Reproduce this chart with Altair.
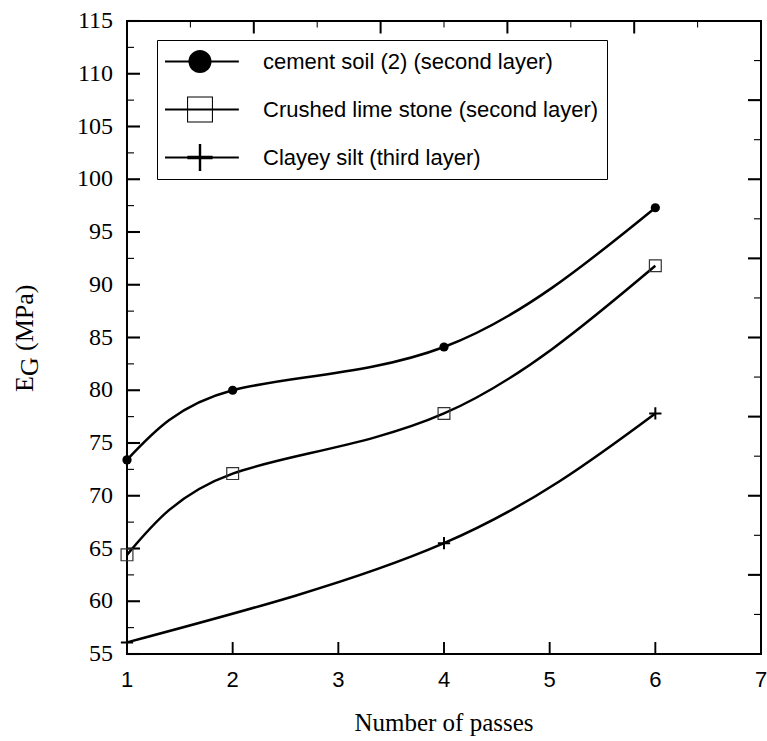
import altair as alt
import pandas as pd

# Measured E_G values (MPa) against number of roller passes
passes_cement = [1, 2, 4, 6]
cement = [73.4, 80.0, 84.1, 97.3]
passes_lime = [1, 2, 4, 6]
lime = [64.4, 72.1, 77.8, 91.8]
passes_silt = [1, 4, 6]
silt = [56.1, 65.5, 77.8]

series_names = [
    "cement soil (2) (second layer)",
    "Crushed lime stone (second layer)",
    "Clayey silt (third layer)",
]

# Frame tick positions and labels
x_ticks = [1, 2, 3, 4, 5, 6, 7]
y_major = [55, 60, 65, 70, 75, 80, 85, 90, 95, 100, 105, 110, 115]
y_minor = [57.5, 62.5, 67.5, 72.5, 77.5, 82.5, 87.5, 92.5, 97.5, 102.5, 107.5, 112.5]
top_major = [2.2, 3.4, 4.6, 5.8]
top_minor = [1.6, 2.8, 4.0, 5.2, 6.4]
right_major = [62.5, 70, 77.5, 85, 92.5, 100, 107.5]
right_minor = [58.75, 66.25, 73.75, 81.25, 88.75, 96.25, 103.75, 111.25]

W, H = 634, 633
SERIF = "Liberation Serif"
SANS = "Liberation Sans"

rows = []
for name, xs, ys in zip(series_names,
                        [passes_cement, passes_lime, passes_silt],
                        [cement, lime, silt]):
    for xv, yv in zip(xs, ys):
        rows.append({"series": name, "passes": xv, "eg": yv})
df = pd.DataFrame(rows)

xscale = alt.Scale(domain=[1, 7], nice=False, zero=False)
yscale = alt.Scale(domain=[55, 115], nice=False, zero=False)

x_plain = alt.X("passes:Q", scale=xscale, axis=None)
y_plain = alt.Y("eg:Q", scale=yscale, axis=None)

curves = alt.Chart(df).mark_line(
    interpolate="natural", color="black", strokeWidth=2.5
).encode(x=x_plain, y=y_plain, detail="series:N")

cement_pts = alt.Chart(df).transform_filter(
    alt.datum.series == series_names[0]
).mark_point(shape="circle", filled=True, color="black", size=85, opacity=1).encode(
    x=x_plain, y=y_plain)

lime_pts = alt.Chart(df).transform_filter(
    alt.datum.series == series_names[1]
).mark_point(shape="square", filled=False, stroke="#333333", strokeWidth=1.2,
             size=140, opacity=1).encode(x=x_plain, y=y_plain)

silt_pts = alt.Chart(df).transform_filter(
    alt.datum.series == series_names[2]
).mark_point(shape="M-1,0H1M0,-1V1", filled=False, stroke="black", strokeWidth=2,
             size=150, opacity=1).encode(x=x_plain, y=y_plain)

# Inward frame ticks drawn as filled marker shapes placed on the scales
TICK_L = "M0,-0.08H1V0.08H0Z"      # ray pointing right from the anchor
TICK_R = "M0,-0.08H-1V0.08H0Z"     # ray pointing left
TICK_U = "M-0.08,0V-1H0.08V0Z"     # ray pointing up
TICK_D = "M-0.08,0V1H0.08V0Z"      # ray pointing down


def edge_ticks(values, channel, shape, length, fixed):
    data = pd.DataFrame({"v": values})
    if channel == "y":
        enc = {"x": alt.value(fixed), "y": alt.Y("v:Q", scale=yscale, axis=None)}
    else:
        enc = {"x": alt.X("v:Q", scale=xscale, axis=None), "y": alt.value(fixed)}
    return alt.Chart(data).mark_point(
        shape=shape, filled=True, color="black", size=length * length, opacity=1,
        strokeWidth=0
    ).encode(**enc)


tick_layers = [
    edge_ticks(y_major, "y", TICK_L, 26, 0),
    edge_ticks(y_minor, "y", TICK_L, 14, 0),
    edge_ticks(right_major, "y", TICK_R, 26, W),
    edge_ticks(right_minor, "y", TICK_R, 14, W),
    edge_ticks(x_ticks, "x", TICK_U, 24, H),
    edge_ticks(top_major, "x", TICK_D, 25, 0),
    edge_ticks(top_minor, "x", TICK_D, 13, 0),
]

# Tick labels placed through the same scales
y_labels = alt.Chart(pd.DataFrame({"lab": y_major})).mark_text(
    font=SERIF, fontSize=24, align="right", baseline="middle", color="black"
).encode(y=alt.Y("lab:Q", scale=yscale, axis=None), x=alt.value(-14),
         text=alt.Text("lab:Q", format="d"))

x_labels = alt.Chart(pd.DataFrame({"lab": x_ticks})).mark_text(
    font=SANS, fontSize=22, align="center", baseline="top", color="black"
).encode(x=alt.X("lab:Q", scale=xscale, axis=None), y=alt.value(H + 16),
         text=alt.Text("lab:Q", format="d"))

x_title = alt.Chart(pd.DataFrame({"t": ["Number of passes"]})).mark_text(
    font=SERIF, fontSize=25, align="center", baseline="alphabetic", color="black"
).encode(text="t:N", x=alt.value(W / 2), y=alt.value(H + 77))

# Legend symbols built from filled outlines: line segment through each marker
legend_paths = [
    # line + filled circle
    "M-1.11,-0.03H1.11V0.03H-1.11Z"
    "M-0.33,0A0.33,0.33 0 1,1 0.33,0A0.33,0.33 0 1,1 -0.33,0Z",
    # line + open square (outer ring clockwise, inner counter-clockwise)
    "M-1.11,-0.03H-0.37V0.03H-1.11Z M0.37,-0.03H1.11V0.03H0.37Z"
    "M-0.37,-0.37H0.37V0.37H-0.37Z M-0.34,-0.34V0.34H0.34V-0.34Z"
    "M-0.34,-0.03H0.34V0.03H-0.34Z",
    # line + plus
    "M-1.11,-0.03H1.11V0.03H-1.11Z M-0.035,-0.4H0.035V0.4H-0.035Z"
    "M-0.36,-0.05H0.36V0.05H-0.36Z",
]
legend_layer = alt.Chart(df).transform_filter("false").mark_point(
    filled=True, color="black", opacity=1
).encode(
    x=x_plain, y=y_plain,
    shape=alt.Shape("series:N", scale=alt.Scale(domain=series_names, range=legend_paths),
                    legend=alt.Legend(title=None, orient="none", legendX=30, legendY=19,
                                      symbolSize=4900, symbolStrokeWidth=0,
                                      symbolFillColor="black", symbolOpacity=1,
                                      labelFont=SANS, labelFontSize=22,
                                      labelColor="black", labelOffset=28, clipHeight=27,
                                      rowPadding=21, padding=8, strokeColor="black",
                                      labelLimit=600)),
)


# Y title with subscript G
def title_piece(text, x, y):
    return alt.Chart(pd.DataFrame({"t": [text]})).mark_text(
        font=SERIF, fontSize=26, angle=270, align="left", baseline="alphabetic",
        color="black"
    ).encode(text="t:N", x=alt.value(x), y=alt.value(y))


t_e = title_piece("E", -94, 371)
t_g = title_piece("G", -89.5, 355)
t_u = title_piece("(MPa)", -94, 330)

chart = alt.layer(
    curves, *tick_layers, cement_pts, lime_pts, silt_pts, legend_layer,
    y_labels, x_labels, x_title, t_e, t_g, t_u,
).properties(
    width=W, height=H,
    autosize=alt.AutoSizeParams(type="none"),
    padding={"left": 127, "top": 21, "right": 6, "bottom": 87},
).configure_view(stroke="black", strokeWidth=2)

chart.save("out.html", embed_options={"renderer": "svg", "actions": False})
